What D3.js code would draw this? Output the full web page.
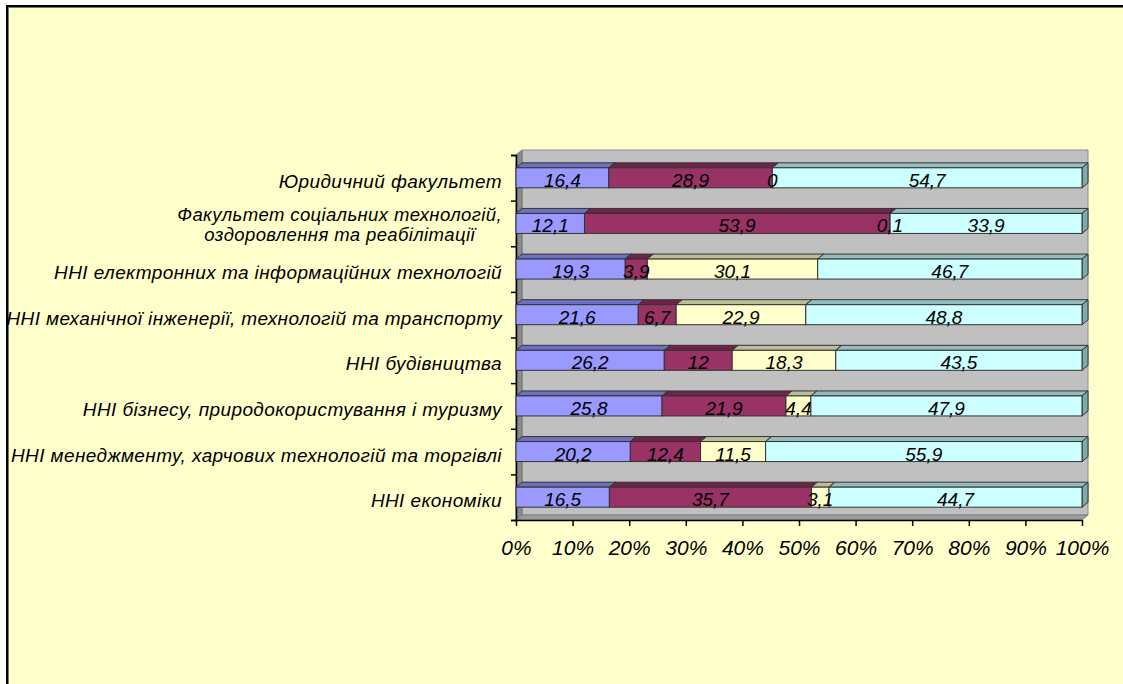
<!DOCTYPE html>
<html>
<head>
<meta charset="utf-8">
<script src="https://cdn.jsdelivr.net/npm/d3@7"></script>
<style>
  body { margin: 0; background: #fff; }
  text { font-family: "Liberation Sans", Arial, sans-serif; font-style: italic; }
</style>
</head>
<body>
<svg id="chart" width="1123" height="684"></svg>
<script>
// categories top to bottom
var categories = [
  ["Юридичний факультет"],
  ["Факультет  соціальних технологій,", "оздоровлення та реабілітації"],
  ["ННІ  електронних та  інформаційних технологій"],
  ["ННІ  механічної інженерії, технологій та транспорту"],
  ["ННІ будівництва"],
  ["ННІ бізнесу, природокористування і туризму"],
  ["ННІ менеджменту, харчових технологій та торгівлі"],
  ["ННІ економіки"]
]
var series1 = [16.4, 12.1, 19.3, 21.6, 26.2, 25.8, 20.2, 16.5]
var series2 = [28.9, 53.9, 3.9, 6.7, 12, 21.9, 12.4, 35.7]
var series3 = [0, 0.1, 30.1, 22.9, 18.3, 4.4, 11.5, 3.1]
var series4 = [54.7, 33.9, 46.7, 48.8, 43.5, 47.9, 55.9, 44.7]
var xTicks = [0, 10, 20, 30, 40, 50, 60, 70, 80, 90, 100]

var fronts = ["#9999FF", "#993366", "#FFFFCC", "#CCFFFF"]
var tops = ["#6F6FC0", "#6E2449", "#BDBD96", "#93BDBD"]
var sides = ["#5E5EA8", "#5A1D3C", "#A5A57F", "#7FAAAA"]

var svg = d3.select("#chart")
var dx = 6, dy = -5
var barH = 20

// frame
svg.append("rect")
  .attr("x", 7).attr("y", 6)
  .attr("width", 1130).attr("height", 690)
  .attr("fill", "#FFFFCC")
  .attr("stroke", "#000").attr("stroke-width", 2)
svg.append("rect")
  .attr("x", 8.5).attr("y", 7.5)
  .attr("width", 1130).attr("height", 690)
  .attr("fill", "none")
  .attr("stroke", "#777").attr("stroke-width", 1)

var x = d3.scaleLinear().domain([0, 100]).range([516, 1082])
var y = d3.scaleBand().domain(d3.range(categories.length)).range([155, 520])
var yb = d3.scaleLinear().domain([0, categories.length]).range([155, 520])

var x0 = x(0), x1 = x(100), yt = yb(0), ybt = yb(categories.length)

function poly(pts) {
  return "M" + pts.map(function(p) { return p.join(",") }).join("L") + "Z"
}

// walls
svg.append("path")
  .attr("d", poly([[x0 + dx, yt + dy], [x1 + dx, yt + dy], [x1 + dx, ybt + dy], [x0 + dx, ybt + dy]]))
  .attr("fill", "#C0C0C0").attr("stroke", "#8C8C8C")
svg.append("path")
  .attr("d", poly([[x0, yt], [x0 + dx, yt + dy], [x0 + dx, ybt + dy], [x0, ybt]]))
  .attr("fill", "#8A8A8A").attr("stroke", "#777")
svg.append("path")
  .attr("d", poly([[x0, ybt], [x0 + dx, ybt + dy], [x1 + dx, ybt + dy], [x1, ybt]]))
  .attr("fill", "#9C9C9C").attr("stroke", "#808080")

// axes
svg.append("g")
  .attr("transform", "translate(" + x0 + ",0)")
  .call(d3.axisLeft(yb).ticks(categories.length).tickSize(5).tickFormat(""))
  .call(function(g) { g.selectAll("line, path").attr("stroke", "#000").attr("stroke-width", 1.5) })

var xAxis = svg.append("g")
  .attr("transform", "translate(0," + ybt + ")")
  .call(d3.axisBottom(x).tickValues(xTicks).tickSize(6).tickSizeOuter(0).tickPadding(14)
    .tickFormat(function(d) { return d + "%" }))
xAxis.selectAll("line, path").attr("stroke", "#000").attr("stroke-width", 1.5)
xAxis.selectAll("text")
  .attr("font-size", 21).attr("fill", "#000")
  .attr("font-family", "Liberation Sans, Arial, sans-serif")
  .attr("font-style", "italic")

// bars
var allSeries = [series1, series2, series3, series4]
categories.forEach(function(cat, i) {
  var cy = y(i) + y.bandwidth() / 2
  var top = cy - barH / 2, bot = cy + barH / 2
  var start = 0
  var g = svg.append("g")
  allSeries.forEach(function(s, k) {
    var a = x(start), b = x(start + s[i])
    g.append("path")
      .attr("d", poly([[a, top], [a + dx, top + dy], [b + dx, top + dy], [b, top]]))
      .attr("fill", tops[k]).attr("stroke", "#333").attr("stroke-width", 1)
    g.append("path")
      .attr("d", poly([[b, top], [b + dx, top + dy], [b + dx, bot + dy], [b, bot]]))
      .attr("fill", sides[k]).attr("stroke", "#333").attr("stroke-width", 1)
    g.append("rect")
      .attr("x", a).attr("y", top)
      .attr("width", b - a).attr("height", barH)
      .attr("fill", fronts[k]).attr("stroke", "#333").attr("stroke-width", 1)
    start += s[i]
  })
  start = 0
  allSeries.forEach(function(s, k) {
    svg.append("text")
      .attr("x", x(start + s[i] / 2))
      .attr("y", bot - 1)
      .attr("text-anchor", "middle")
      .attr("font-size", 19)
      .text(String(s[i]).replace(".", ","))
    start += s[i]
  })

  // category label, one text per line
  var lineH = 20
  var baseY = cy + 10 - (cat.length - 1) * lineH / 2 - (cat.length > 1 ? 2 : 0)
  var labs = cat.map(function(t, j) {
    return svg.append("text").attr("font-size", cat.length > 1 ? 18.5 : 19)
      .attr("letter-spacing", 0.4).attr("text-anchor", "middle")
      .attr("y", baseY + j * lineH).text(t)
  })
  var w = d3.max(labs, function(l) { return l.node().getComputedTextLength() })
  labs.forEach(function(l) { l.attr("x", 502 - w / 2) })
})
</script>
</body>
</html>
